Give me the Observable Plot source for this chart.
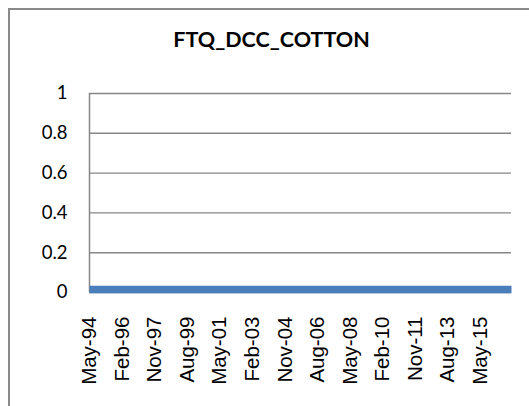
<!DOCTYPE html>
<html>
<head>
<meta charset="utf-8">
<script src="https://cdn.jsdelivr.net/npm/d3@7"></script>
<script src="https://cdn.jsdelivr.net/npm/@observablehq/plot@0.6"></script>
<style>
  html, body { margin: 0; padding: 0; background: #fff; overflow: hidden; }
  #wrap { position: relative; width: 529px; height: 406px; overflow: hidden; }
  #border {
    position: absolute; left: 8px; top: 8px; width: 700px; height: 700px;
    border: 2.5px solid #8a8a8a; box-sizing: border-box; pointer-events: none;
  }
</style>
</head>
<body>
<div id="wrap"><div id="border"></div></div>
<script>
// Chart title
const chartTitle = "FTQ_DCC_COTTON";

// Axis tick labels (month-year, every 21 months)
const tickLabels = ["May-94", "Feb-96", "Nov-97", "Aug-99", "May-01", "Feb-03", "Nov-04",
                    "Aug-06", "May-08", "Feb-10", "Nov-11", "Aug-13", "May-15"];
const yTicks = [0, 0.2, 0.4, 0.6, 0.8, 1];

// Series readings (the line stays flat just above zero)
const seriesDates = ["May-94", "Feb-96", "Nov-97", "Aug-99", "May-01", "Feb-03", "Nov-04",
                     "Aug-06", "May-08", "Feb-10", "Nov-11", "Aug-13", "May-15", "Jan-17"];
const seriesValues = [0.015, 0.015, 0.015, 0.015, 0.015, 0.015, 0.015,
                      0.015, 0.015, 0.015, 0.015, 0.015, 0.015, 0.015];

const parse = d3.utcParse("%b-%y");
const fmt = d3.utcFormat("%b-%y");
const tickDates = tickLabels.map(parse);
const data = seriesDates.map((d, i) => ({date: parse(d), value: seriesValues[i]}));
const xDomain = [data[0].date, data[data.length - 1].date];

const grid = "#868686";

const chart = Plot.plot({
  width: 529,
  height: 406,
  marginLeft: 89,
  marginRight: 18,
  marginTop: 93,
  marginBottom: 114,
  style: {background: "transparent", color: "#000", overflow: "visible"},
  x: {type: "utc", domain: xDomain, label: null},
  y: {domain: [0, 1], label: null},
  marks: [
    Plot.ruleY(yTicks, {stroke: grid, strokeWidth: 1.4}),
    Plot.ruleX([xDomain[0]], {y1: 0, y2: 1, stroke: grid, strokeWidth: 1.5}),
    Plot.line(data, {x: "date", y: "value", stroke: "#4a7ebb", strokeWidth: 7.5, strokeLinecap: "butt"}),
    Plot.axisY({
      ticks: yTicks, tickSize: 0, tickPadding: 22, tickFormat: d => String(d),
      fontFamily: "Lato", fontSize: 18.5, fill: "#000", label: null
    }),
    Plot.axisX({
      ticks: tickDates, tickFormat: fmt, tickSize: 0, tickPadding: 24, tickRotate: -90,
      fontFamily: "Liberation Sans", fontSize: 20.5, fill: "#000", label: null
    }),
    Plot.text([chartTitle], {
      frameAnchor: "top", dx: -29, dy: -62, fontFamily: "Lato", fontWeight: "bold",
      fontSize: 21.5, fill: "#000"
    })
  ]
});

document.getElementById("wrap").insertBefore(chart, document.getElementById("border"));
</script>
</body>
</html>
